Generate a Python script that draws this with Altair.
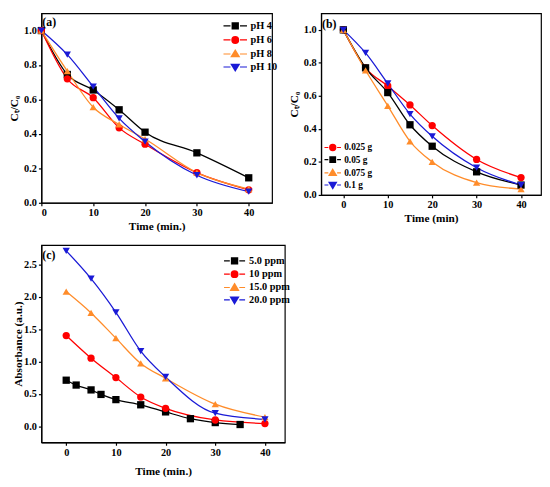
import altair as alt
import pandas as pd

# ---------------- Panel (a): effect of pH ----------------
time_a = [0, 5, 10, 15, 20, 30, 40]
ph_labels = ["pH 4", "pH 6", "pH 8", "pH 10"]
ph4 = [1.0, 0.745, 0.655, 0.54, 0.41, 0.29, 0.145]
ph6 = [1.0, 0.72, 0.61, 0.435, 0.34, 0.175, 0.075]
ph8 = [1.0, 0.765, 0.555, 0.455, 0.37, 0.175, 0.08]
ph10 = [1.0, 0.86, 0.675, 0.49, 0.355, 0.16, 0.065]

# ---------------- Panel (b): effect of dose ----------------
time_b = [0, 5, 10, 15, 20, 30, 40]
dose_labels = ["0.025 g", "0.05 g", "0.075 g", "0.1 g"]
d025 = [1.0, 0.77, 0.66, 0.545, 0.42, 0.215, 0.105]
d05 = [1.0, 0.77, 0.62, 0.425, 0.295, 0.14, 0.06]
d075 = [1.0, 0.755, 0.54, 0.325, 0.2, 0.075, 0.035]
d1 = [1.0, 0.86, 0.675, 0.49, 0.355, 0.165, 0.06]

# ---------------- Panel (c): effect of concentration ----------------
conc_labels = ["5.0 ppm", "10 ppm", "15.0 ppm", "20.0 ppm"]
time_c5 = [0, 2, 5, 7, 10, 15, 20, 25, 30, 35]
abs_c5 = [0.71, 0.635, 0.56, 0.49, 0.41, 0.33, 0.22, 0.115, 0.055, 0.025]
time_c = [0, 5, 10, 15, 20, 30, 40]
abs_c10 = [1.40, 1.05, 0.75, 0.45, 0.275, 0.095, 0.04]
abs_c15 = [2.08, 1.75, 1.36, 0.97, 0.74, 0.34, 0.14]
abs_c20 = [2.71, 2.28, 1.76, 1.16, 0.76, 0.20, 0.105]

BLACK, RED, ORANGE, BLUE = "#000000", "#ff0000", "#ff8c2a", "#1a1ad6"
FONT = "Liberation Serif"


def long_df(pairs, labels):
    rows = []
    for lab, (xs, ys) in zip(labels, pairs):
        for x, y in zip(xs, ys):
            rows.append({"t": x, "v": y, "s": lab})
    return pd.DataFrame(rows)


def _f(v):
    return f"{v:.3f}"


def legend_path(kind, L):
    """Line-and-marker legend glyph; the marker is filled by dense strokes."""
    parts = [f"M{_f(-L)},0H-0.85M0.85,0H{_f(L)}"]
    step = 0.17
    if kind == "square":
        h = 0.55
        parts.append(f"M{_f(-h)},{_f(-h)}H{_f(h)}V{_f(h)}H{_f(-h)}Z")
        y = -h
        while y <= h + 1e-9:
            parts.append(f"M{_f(-h)},{_f(y)}H{_f(h)}")
            y += step
    elif kind == "circle":
        r = 0.6
        parts.append(f"M{_f(r)},0A{_f(r)},{_f(r)} 0 1 1 {_f(-r)},0A{_f(r)},{_f(r)} 0 1 1 {_f(r)},0Z")
        y = -r + 0.06
        while y <= r - 0.06 + 1e-9:
            hw = (r * r - y * y) ** 0.5
            parts.append(f"M{_f(-hw)},{_f(y)}H{_f(hw)}")
            y += step
    else:
        a, b, hw = (-0.7, 0.5, 0.72) if kind == "triangle-up" else (0.7, -0.5, 0.72)
        parts.append(f"M0,{_f(a)}L{_f(hw)},{_f(b)}H{_f(-hw)}Z")
        n = 8
        for i in range(n + 1):
            y = a + (b - a) * i / n
            w = hw * i / n
            parts.append(f"M{_f(-w)},{_f(y)}H{_f(w)}")
    return "".join(parts)


def panel(df, labels, colors, shapes, xdom, ydom, xticks, yticks, xtitle, ytitle,
          w, h, lx, ly, L, loff, rowpad, symsize, legfont, tag, tagx, tagy,
          xtitlepad=3, ylabelpad=2, ytitlepad=4):
    x = alt.X("t:Q", scale=alt.Scale(domain=xdom, nice=False, zero=False),
              axis=alt.Axis(values=xticks, title=xtitle, format="d",
                            titlePadding=xtitlepad))
    y = alt.Y("v:Q", scale=alt.Scale(domain=ydom, nice=False, zero=False),
              axis=alt.Axis(values=yticks, title=ytitle, format=".1f",
                            labelPadding=ylabelpad, titlePadding=ytitlepad))
    cscale = alt.Scale(domain=labels, range=colors)
    base = alt.Chart(df)
    lines = base.mark_line(interpolate="monotone", strokeWidth=1.3).encode(
        x=x, y=y, color=alt.Color("s:N", scale=cscale, legend=None),
        detail="s:N")
    pts = base.mark_point(filled=True, size=55, opacity=1).encode(
        x=x, y=y, color=alt.Color("s:N", scale=cscale, legend=None),
        shape=alt.Shape("s:N", scale=alt.Scale(domain=labels, range=shapes), legend=None))
    leg = alt.Legend(orient="none", legendX=lx, legendY=ly, title=None,
                     labelFont=FONT, labelFontWeight="bold", labelFontSize=legfont,
                     labelColor="black", symbolSize=symsize, symbolStrokeWidth=1.2,
                     labelOffset=loff, rowPadding=rowpad, padding=0)
    paths = [legend_path(k, L) for k in shapes]
    legend_layer = base.transform_filter("false").mark_point(
        filled=False, opacity=1, strokeWidth=1.2).encode(
        x=x, y=y,
        color=alt.Color("s:N", scale=alt.Scale(domain=labels, range=colors), legend=leg),
        shape=alt.Shape("s:N", scale=alt.Scale(domain=labels, range=paths), legend=leg))
    tag_df = pd.DataFrame({"lab": [tag]})
    tagm = alt.Chart(tag_df).mark_text(font=FONT, fontWeight="bold", fontSize=12,
                                       align="left", baseline="middle", color="black").encode(
        text="lab:N", x=alt.value(tagx), y=alt.value(tagy))
    return alt.layer(lines, pts, legend_layer, tagm).resolve_scale(
        shape="independent", color="independent").properties(width=w, height=h)


df_a = long_df([(time_a, ph4), (time_a, ph6), (time_a, ph8), (time_a, ph10)], ph_labels)
df_b = long_df([(time_b, d025), (time_b, d05), (time_b, d075), (time_b, d1)], dose_labels)
df_c = long_df([(time_c5, abs_c5), (time_c, abs_c10), (time_c, abs_c15), (time_c, abs_c20)],
               conc_labels)

pa = panel(df_a, ph_labels, [BLACK, RED, ORANGE, BLUE],
           ["square", "circle", "triangle-up", "triangle-down"],
           [0, 44.5], [0, 1.1], [0, 10, 20, 30, 40], [0, 0.2, 0.4, 0.6, 0.8, 1.0],
           "Time (min.)", "Cₜ/C₀", 235, 193,
           191, 6.3, 2.1, 9, 1.3, 130, 10.5, "(a)", 1, 9)
pb = panel(df_b, dose_labels, [RED, BLACK, ORANGE, BLUE],
           ["circle", "square", "triangle-up", "triangle-down"],
           [-5, 44.5], [0, 1.1], [0, 10, 20, 30, 40], [0, 0.2, 0.4, 0.6, 0.8, 1.0],
           "Time (min)", "Cₜ/C₀", 224, 185,
           5.8, 130.7, 1.6, 5.7, 0.4, 110, 9.5, "(b)", 1, 11)
pc = panel(df_c, conc_labels, [BLACK, RED, ORANGE, BLUE],
           ["square", "circle", "triangle-up", "triangle-down"],
           [-5, 44], [-0.25, 2.8], [0, 10, 20, 30, 40], [0, 0.5, 1.0, 1.5, 2.0, 2.5],
           "Time (min.)", "Absorbance (a.u.)", 248, 201,
           190.3, 9.6, 1.88, 8.3, 0.6, 130, 10.5, "(c)", 1, 10,
           xtitlepad=8, ylabelpad=2, ytitlepad=0)

ind = dict(color="independent", shape="independent", x="independent", y="independent")
top = alt.hconcat(pa, pb, spacing=9).resolve_scale(**ind)
chart = alt.vconcat(top, pc, spacing=11).resolve_scale(**ind).properties(
    padding=0, background="white"
).configure_axis(
    labelFont=FONT, labelFontWeight="bold", labelFontSize=10.5, labelColor="black",
    titleFont=FONT, titleFontWeight="bold", titleFontSize=11.5, titleColor="black",
    domainColor="black", tickColor="black", tickSize=3, domainWidth=1.2,
    tickWidth=1.2, grid=False, labelPadding=2, titlePadding=3
).configure_view(stroke="black", strokeWidth=1.2)

chart.save("out.html", embed_options={"renderer": "svg", "actions": False})
